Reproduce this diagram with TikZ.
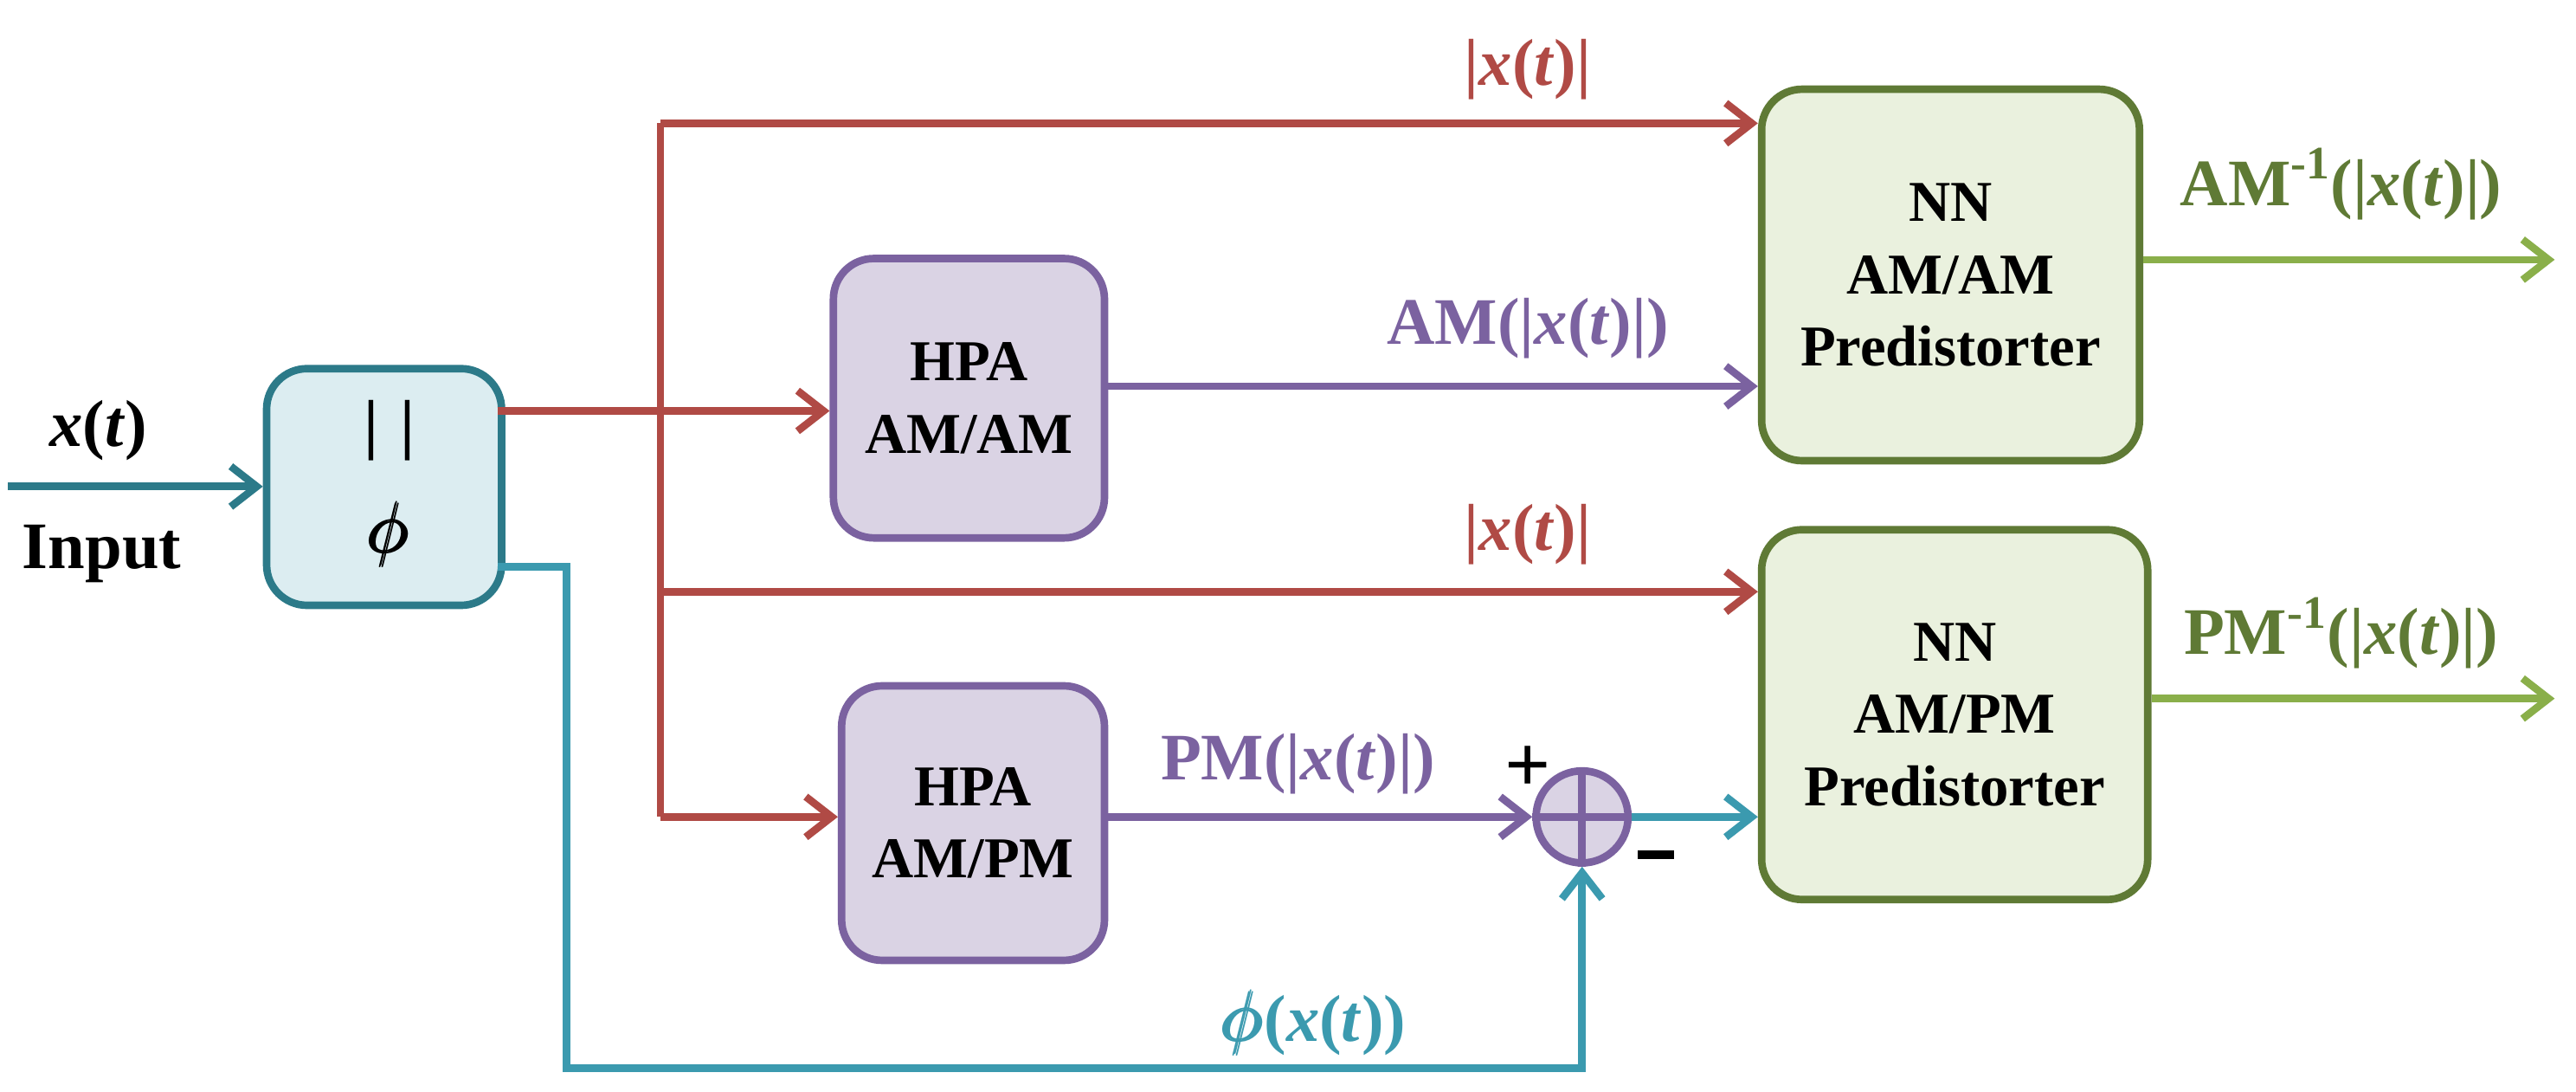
\documentclass[tikz,border=0pt]{standalone}
\usepackage{amsmath}
\usepackage{fontspec}
\setmainfont{Liberation Serif}
\usetikzlibrary{arrows.meta}
\definecolor{cred}{HTML}{B04A45}
\definecolor{cpur}{HTML}{7B62A0}
\definecolor{cteal}{HTML}{3B9AAF}
\definecolor{cdteal}{HTML}{2C7A89}
\definecolor{cgreen}{HTML}{8AAF4A}
\definecolor{cdgreen}{HTML}{5F7A35}
\begin{document}
\begin{tikzpicture}[x=0.02cm,y=-0.02cm,
  ln/.style={line width=2.6pt},
  ar/.style={ln,-{Straight Barb[length=9pt,width=14pt,line width=2.6pt]}},
  blk/.style={rounded corners=14pt,line width=2.6pt,font=\fontsize{20}{25}\selectfont\bfseries,align=center,anchor=north west},
  lab/.style={font=\fontsize{23}{26}\selectfont\bfseries}]
\useasboundingbox (0,0) rectangle (1568,664);
% blocks
\node[blk,draw=cdteal,fill=cteal!18,minimum width=143*0.02cm,minimum height=144*0.02cm] (mag) at (160,222) {};
\node[lab,text=black] (bar) at (237,262) {|\,\,|};
\node[lab,text=black,font=\fontsize{27}{30}\selectfont] (phi) at (237,325) {$\pmb{\phi}$};
\node[blk,draw=cpur,fill=cpur!28,minimum width=165*0.02cm,minimum height=170*0.02cm] (ham) at (505,155) {HPA\\AM/AM};
\node[blk,draw=cpur,fill=cpur!28,minimum width=160*0.02cm,minimum height=167*0.02cm] (hpm) at (510,415) {HPA\\AM/PM};
\node[blk,draw=cdgreen,fill=cgreen!18,minimum width=230*0.02cm,minimum height=226*0.02cm] (nn1) at (1070,52) {NN\\AM/AM\\Predistorter};
\node[blk,draw=cdgreen,fill=cgreen!18,minimum width=235*0.02cm,minimum height=225*0.02cm] (nn2) at (1070,320) {NN\\AM/PM\\Predistorter};
\node[circle,draw=cpur,fill=cpur!28,line width=2.6pt,minimum size=56*0.02cm,inner sep=0] (sum) at (963,497) {};
\draw[cpur,line width=2.6pt] (sum.north)--(sum.south) (sum.west)--(sum.east);
% coordinates
\coordinate (in) at (5,296);
\coordinate (j) at (402,250);
\coordinate (jt) at (402,75);
\coordinate (jm) at (402,360);
\coordinate (jb) at (402,497);
\coordinate (o1) at (1555,158);
\coordinate (o2) at (1555,425);
% connectors
\draw[ar,cdteal] (in) -- (mag.west|-in);
\draw[ln,cred] (303,250) -- (j);
\draw[ar,cred] (j) -- (ham.west|-j);
\draw[ln,cred] (jt) -- (jb);
\draw[ar,cred] (jt) -- (nn1.west|-jt);
\draw[ar,cred] (jm) -- (nn2.west|-jm);
\draw[ar,cred] (jb) -- (hpm.west|-jb);
\draw[ar,cpur] (ham.east|-0,235) -- (nn1.west|-0,235);
\draw[ar,cpur] (hpm.east|-sum) -- (sum.west);
\draw[ar,cteal] (sum.east) -- (nn2.west|-sum);
\draw[ar,cteal] (303,345) -- (345,345) -- (345,650) -- (963,650) -- (sum.south);
\draw[ar,cgreen] (nn1.east|-o1) -- (o1);
\draw[ar,cgreen] (nn2.east|-o2) -- (o2);
% labels
\node[lab] (lx) at (60,262) {\textit{x}(\textit{t})};
\node[lab] (li) at (62,337) {Input};
\node[lab,text=cred] (l1) at (930,42) {|\textit{x}(\textit{t})|};
\node[lab,text=cred] (l2) at (930,325) {|\textit{x}(\textit{t})|};
\node[lab,text=cpur] (l3) at (930,200) {AM(|\textit{x}(\textit{t})|)};
\node[lab,text=cpur] (l4) at (790,465) {PM(|\textit{x}(\textit{t})|)};
\node[lab,text=cteal] (l5) at (800,622) {$\pmb{\phi}$(\textit{x}(\textit{t}))};
\node[lab,text=cdgreen] (l6) at (1425,112) {AM\textsuperscript{-1}(|\textit{x}(\textit{t})|)};
\node[lab,text=cdgreen] (l7) at (1425,385) {PM\textsuperscript{-1}(|\textit{x}(\textit{t})|)};
\node[lab,font=\fontsize{28}{30}\selectfont\bfseries] (lp) at (930,468) {+};
\node[fill=black,minimum width=22*0.02cm,minimum height=5*0.02cm,inner sep=0] (lm) at (1008,520) {};
\end{tikzpicture}
\end{document}
